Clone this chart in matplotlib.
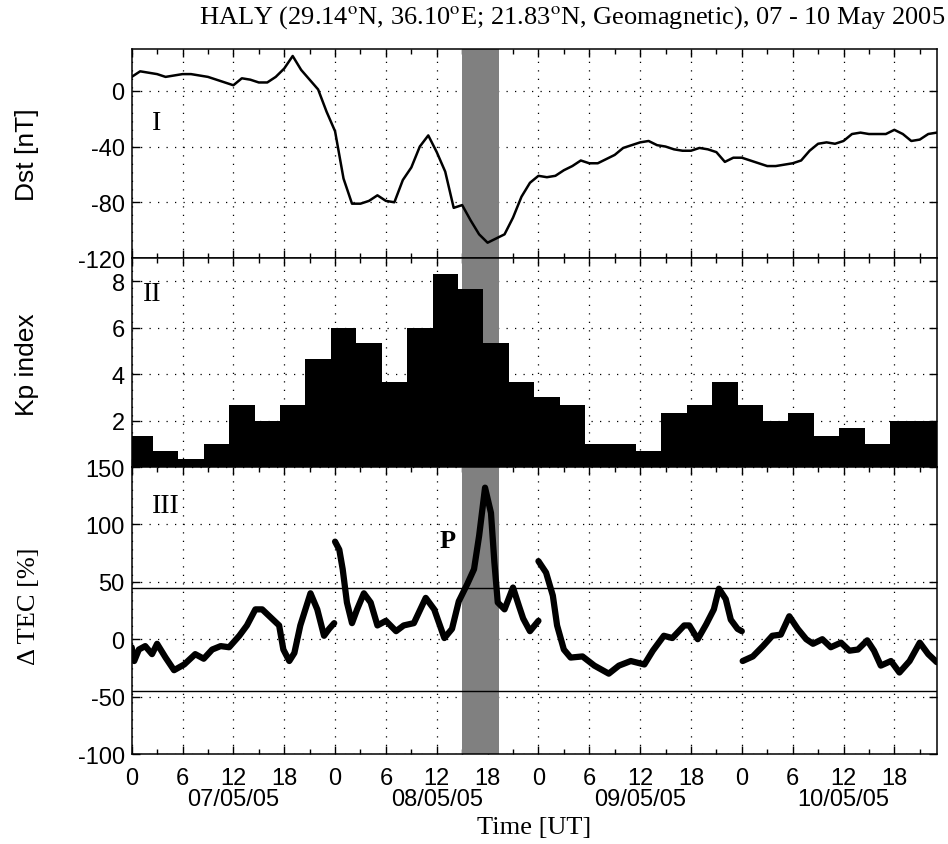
import numpy as np
import matplotlib.pyplot as plt
import matplotlib.transforms as mtransforms
from matplotlib.ticker import MultipleLocator

plt.rcParams['font.family'] = 'Liberation Sans'
plt.rcParams['mathtext.fontset'] = 'stix'
plt.rcParams['axes.unicode_minus'] = False

# hourly Dst [nT], 07/05/05 00 UT .. 10/05/05 23 UT
dst_hours = np.arange(96)
dst = [10, 14, 13, 12, 10, 11, 12, 12, 11, 10, 8, 6, 4, 9, 8, 6,
       6, 10, 16, 25, 15, 8, 1, -15, -29, -63, -81, -81, -79, -75, -79, -80,
       -64, -55, -40, -32, -44, -58, -84, -82, -93, -103, -109, -106, -103, -91, -76, -66,
       -61, -62, -61, -57, -54, -50, -52, -52, -49, -46, -41, -39, -37, -36, -39, -40,
       -42, -43, -43, -41, -42, -44, -51, -48, -48, -50, -52, -54, -54, -53, -52, -50,
       -43, -38, -37, -38, -36, -31, -30, -31, -31, -31, -28, -31, -36, -35, -31, -30]

# 3-hourly Kp
kp_hours = np.arange(1, 96, 3)
kp = [1.33, 0.67, 0.33, 1.0, 2.67, 2.0, 2.67, 4.67,
      6.0, 5.33, 3.67, 6.0, 8.33, 7.67, 5.33, 3.67,
      3.0, 2.67, 1.0, 1.0, 0.67, 2.33, 2.67, 3.67,
      2.67, 2.0, 2.33, 1.33, 1.67, 1.0, 2.0, 2.0]

# TEC deviation [%], one piece per day
tec_t1 = [0.0, 0.3, 0.85, 1.6, 2.4, 3.0, 4.0, 5.0, 6.2, 7.5, 8.5, 9.5, 10.5, 11.5, 12.7,
          13.6, 14.6, 15.4, 16.4, 17.4, 17.9, 18.6, 19.2, 19.9, 21.1, 21.9, 22.7, 23.3, 23.9]
tec_v1 = [-7, -19, -9, -6, -13, -4, -16, -27, -22, -13, -17, -9, -6, -7, 3,
          12, 26, 26, 19, 12, -9, -19, -12, 12, 40, 26, 3, 9, 14]
tec_t2 = [24.0, 24.5, 24.9, 25.4, 26.0, 26.6, 27.4, 28.2, 29.0, 30.0, 31.2, 32.1, 33.3,
          34.7, 35.7, 36.9, 37.8, 38.6, 39.6, 40.4, 41.0, 41.7, 42.4, 42.8, 43.2, 44.0,
          45.0, 45.7, 46.2, 47.0, 48.0]
tec_v2 = [85, 78, 61, 32, 14, 26, 40, 32, 12, 16, 7, 12, 14,
          36, 26, 1, 9, 33, 48, 61, 90, 132, 110, 67, 32, 26,
          45, 29, 18, 7, 16]
tec_t3 = [48.0, 48.9, 49.7, 50.2, 51.0, 51.8, 53.2, 54.6, 56.3, 57.5, 58.9, 60.5, 61.5,
          62.8, 63.8, 65.2, 65.8, 66.8, 67.8, 68.7, 69.3, 70.1, 70.7, 71.5, 72.0]
tec_v3 = [68, 58, 38, 12, -9, -16, -15, -23, -30, -23, -19, -22, -10,
          3, 1, 12, 12, 0, 13, 26, 44, 35, 17, 9, 7]
tec_t4 = [72.1, 73.3, 74.5, 75.6, 76.6, 77.6, 78.6, 79.6, 80.4, 81.5, 82.5, 83.7,
          84.7, 85.7, 86.8, 87.6, 88.4, 89.6, 90.6, 91.8, 93.0, 94.0, 95.0]
tec_v4 = [-19, -15, -6, 3, 4, 20, 9, 0, -4, 0, -7, -3,
          -10, -9, -1, -10, -23, -19, -29, -19, -3, -13, -20]
tec_limit = 45

storm_start, storm_end = 39.0, 43.4
hour_labels = ['0', '6', '12', '18'] * 4
days = ['07/05/05', '08/05/05', '09/05/05', '10/05/05']

fig = plt.figure(figsize=(9.48, 8.45), dpi=100)
gs = fig.add_gridspec(3, 1, height_ratios=[209, 209, 287], hspace=0,
                      left=0.1389, right=0.9881, top=0.9408, bottom=0.1065)
ax1 = fig.add_subplot(gs[0])
ax2 = fig.add_subplot(gs[1], sharex=ax1)
ax3 = fig.add_subplot(gs[2], sharex=ax1)


def style(ax, ylim, yticks):
    ax.set_xlim(0, 95)
    ax.set_ylim(*ylim)
    ax.set_yticks(yticks)
    ax.xaxis.set_major_locator(MultipleLocator(6))
    ax.xaxis.set_minor_locator(MultipleLocator(3))
    ax.tick_params(which='both', direction='in', top=True, right=True,
                   labelsize=17, width=1, colors='black')
    ax.tick_params(which='major', length=6)
    ax.tick_params(which='minor', length=3.5)
    ax.tick_params(axis='y', pad=5)
    ax.grid(True, which='major', color='black', linestyle=(0, (1, 5.8)), linewidth=0.9)
    ax.set_axisbelow(True)
    for s in ax.spines.values():
        s.set_linewidth(1.1)
    ax.axvspan(storm_start, storm_end, color='#808080', lw=0, zorder=1)


# Dst
style(ax1, (-120, 30), [-120, -80, -40, 0])
ax1.plot(dst_hours, dst, color='black', lw=1.8, zorder=3)
ax1.tick_params(labelbottom=False)
ax1.text(0.0314, 0.648, 'I', transform=ax1.transAxes, ha='center', va='center',
         family='Liberation Serif', fontsize=20)

# Kp
style(ax2, (0, 9), [2, 4, 6, 8])
ax2.bar(kp_hours, kp, width=3, color='black', lw=0, zorder=2)
ax2.tick_params(labelbottom=False)
ax2.text(0.0252, 0.83, 'II', transform=ax2.transAxes, ha='center', va='center',
         family='Liberation Serif', fontsize=20)

# TEC
style(ax3, (-100, 150), [-100, -50, 0, 50, 100, 150])
for t, v in [(tec_t1, tec_v1), (tec_t2, tec_v2), (tec_t3, tec_v3), (tec_t4, tec_v4)]:
    ax3.plot(t, v, color='black', lw=4.5, solid_capstyle='round', solid_joinstyle='round', zorder=3)
ax3.axhline(tec_limit, color='black', lw=1, zorder=2)
ax3.axhline(-tec_limit, color='black', lw=1, zorder=2)
ax3.set_xticks(np.arange(0, 96, 6))
ax3.set_xticklabels(hour_labels)
ax3.tick_params(axis='x', pad=9)
ax3.text(0.042, 0.866, 'III', transform=ax3.transAxes, ha='center', va='center',
         family='Liberation Serif', fontsize=20)
ax3.text(37.3, 86, 'P', ha='center', va='center', family='Liberation Serif',
         fontweight='bold', fontsize=19)

trans = mtransforms.blended_transform_factory(ax3.transData, ax3.transAxes)
for i, d in enumerate(days):
    ax3.text(12 + 24 * i, -0.157, d, transform=trans, ha='center', va='center', fontsize=17)

fig.text(27 / 948, 0.817, 'Dst [nT]', rotation=90, ha='center', va='center', fontsize=19)
fig.text(27 / 948, 0.568, 'Kp index', rotation=90, ha='center', va='center', fontsize=19)
fig.text(29 / 948, 0.282, '\u0394 TEC [%]', rotation=90, ha='center', va='center',
         family='Liberation Serif', fontsize=19)
fig.text(534 / 948, 0.02, 'Time [UT]', ha='center', va='center',
         family='Liberation Serif', fontsize=19)
fig.text(0.997, 0.979,
         r'HALY (29.14$^\mathrm{o}$N, 36.10$^\mathrm{o}$E; 21.83$^\mathrm{o}$N, Geomagnetic), 07 - 10 May 2005',
         ha='right', va='center', family='Liberation Serif', fontsize=19)

fig.savefig('out.png', dpi=100)
